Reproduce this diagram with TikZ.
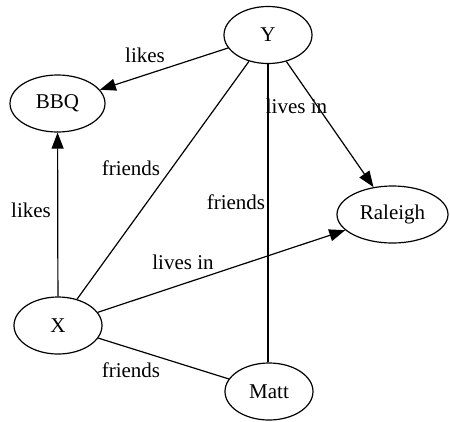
\documentclass[tikz,border=0pt]{standalone}
\usepackage{fontspec}
\setmainfont{Liberation Serif}
\usetikzlibrary{shapes.geometric,arrows.meta}
\begin{document}
\begin{tikzpicture}[x=1pt,y=-1pt,
  gnode/.style={ellipse,draw,line width=1.2pt,inner sep=0pt,minimum height=57pt,font=\fontsize{21}{24}\selectfont},
  elabel/.style={font=\fontsize{21}{24}\selectfont,inner sep=0pt},
  edge/.style={line width=1.2pt},
  arr/.style={edge,-{Triangle[length=16pt,width=12pt]}}]
\useasboundingbox (0,0) rectangle (450,421);
\node[gnode,minimum width=88pt] (Y) at (268,35) {Y};
\node[gnode,minimum width=95pt] (BBQ) at (57.5,103.5) {BBQ};
\node[gnode,minimum width=111pt] (R) at (392.5,214.5) {Raleigh};
\node[gnode,minimum width=88pt] (X) at (58,325.5) {X};
\node[gnode,minimum width=88pt] (M) at (269,391.5) {Matt};
\draw[arr] (Y) -- (BBQ);
\draw[arr] (Y) -- (R);
\draw[edge] (Y) -- (X);
\draw[edge] (Y.south) -- (Y.south |- M.north);
\draw[arr] (X) -- (BBQ);
\draw[arr] (X) -- (R);
\draw[edge] (X) -- (M);
\node[elabel] (l1) at (145,55) {likes};
\node[elabel] (l2) at (296.5,106) {lives in};
\node[elabel] (l3) at (131,168) {friends};
\node[elabel] (l4) at (236,202) {friends};
\node[elabel] (l5) at (31,210) {likes};
\node[elabel] (l6) at (183,262) {lives in};
\node[elabel] (l7) at (131,370) {friends};
\end{tikzpicture}
\end{document}
